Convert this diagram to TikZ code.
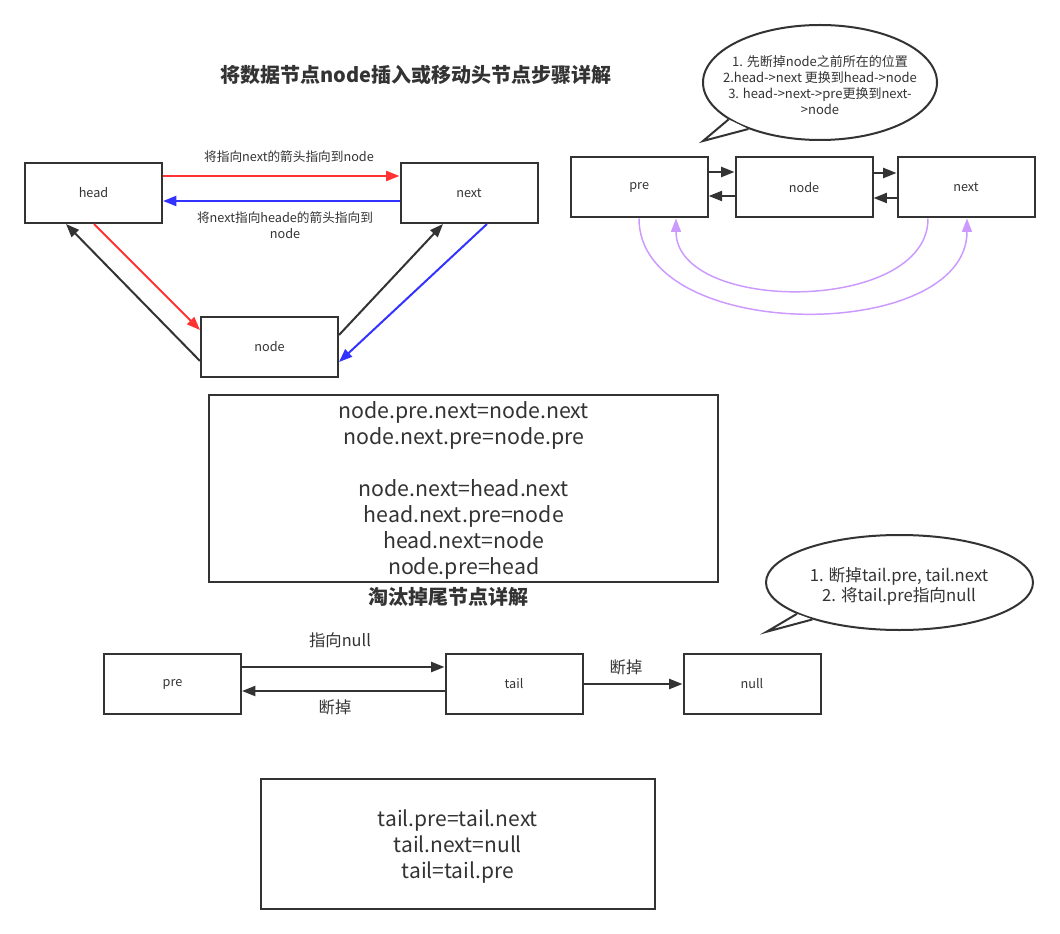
\documentclass[tikz,border=0pt]{standalone}
\usepackage{fontspec}
\setmainfont{Noto Sans CJK SC}
\usetikzlibrary{arrows.meta,shapes.geometric}
\definecolor{ink}{HTML}{333333}
\definecolor{redl}{HTML}{FF3333}
\definecolor{bluel}{HTML}{3333FF}
\definecolor{purp}{HTML}{CC99FF}
\begin{document}
\begin{tikzpicture}[x=0.75pt,y=-0.75pt,
  box/.style={draw=ink, line width=1.5pt, minimum width=102.75pt, minimum height=45pt,
    inner sep=0pt, text=ink, font=\fontsize{9.5}{12}\selectfont},
  frame/.style={draw=ink, line width=1.5pt, inner sep=0pt},
  codetext/.style={text=ink, align=center, inner sep=0pt},
  conn/.style={line width=1.5pt, draw=ink, -{Triangle[length=10pt,width=7.5pt]}},
  parc/.style={line width=1.1pt, draw=purp, -{Triangle[length=10pt,width=7.5pt]}},
  lbl/.style={text=ink, align=center, inner sep=0pt, font=\fontsize{9.5}{12}\selectfont},
  mlbl/.style={text=ink, align=center, inner sep=0pt, font=\fontsize{12.25}{15}\selectfont},
  ttl/.style={text=ink, inner sep=0pt, font=\bfseries\fontsize{15}{18}\selectfont},
  bubble/.style={draw=ink, line width=1.5pt, fill=white, ellipse, inner sep=0pt},
]
\useasboundingbox (0,0) rectangle (1060,934);

% ---------- section 1: triangle ----------
\node[ttl] (t1) at (416,75) {将数据节点node插入或移动头节点步骤详解};

\node[box] (head) at (93.5,193) {head};
\node[box] (next) at (469,193) {next};
\node[box] (nd) at (269.5,347) {node};

\draw[conn,draw=redl] (head.east |- 0,176) -- (next.west |- 0,176);
\draw[conn,draw=bluel] (next.west |- 0,201) -- (head.east |- 0,201);
\draw[conn,draw=redl] (94,0 |- head.south) -- (nd.west |- 0,330);
\draw[conn] (nd.west |- 0,361) -- (66,0 |- head.south);
\draw[conn] (nd.east |- 0,335) -- (443,0 |- next.south);
\draw[conn,draw=bluel] (487,0 |- next.south) -- (nd.east |- 0,362);

\node[lbl] (l1) at (289,157) {将指向next的箭头指向到node};
\node[lbl] (l2) at (285,225) {将next指向heade的箭头指向到\\node};

% ---------- section 1b: pre/node/next ----------
\node[box] (pre) at (639.2,187.5) {pre};
\node[box] (mid) at (804,187.5) {node};
\node[box] (nxt) at (966,187.5) {next};

\draw[conn] (pre.east |- 0,172) -- (mid.west |- 0,172);
\draw[conn] (mid.west |- 0,196) -- (pre.east |- 0,196);
\draw[conn] (mid.east |- 0,173) -- (nxt.west |- 0,173);
\draw[conn] (nxt.west |- 0,198) -- (mid.east |- 0,198);

\draw[parc] (639,0 |- pre.south) .. controls (639,344) and (967,344) .. (967,0 |- nxt.south);
\draw[parc] (928,0 |- nxt.south) .. controls (928,314) and (676,314) .. (676,0 |- pre.south);

% callout 1
\node[bubble, minimum width=175.5pt, minimum height=86.25pt] (c1) at (820,82.5) {};
\coordinate (c1tip) at (703,141);
\fill[white] (c1.202) -- (c1tip) -- (c1.213) -- cycle;
\draw[ink, line width=1.5pt, line join=miter] (c1.202) -- (c1tip) -- (c1.213);
\node[lbl, font=\fontsize{9.75}{12}\selectfont] (c1t) at (820,85) {1. 先断掉node之前所在的位置\\2.head->next 更换到head->node\\3. head->next->pre更换到next-\\>node};

% ---------- code box 1 ----------
\node[frame, minimum width=381.4pt, minimum height=140.25pt] (code1) at (463.75,488.5) {};
\node[codetext, font=\fontsize{16}{19.5}\selectfont] (code1t) at (463.75,490.5)
  {node.pre.next=node.next\\node.next.pre=node.pre\\[19.5pt]node.next=head.next\\head.next.pre=node\\head.next=node\\node.pre=head};

% ---------- section 2 ----------
\node[ttl] (t2) at (448,597) {淘汰掉尾节点详解};

\node[bubble, minimum width=200.25pt, minimum height=71.25pt] (c2) at (899.5,582.5) {};
\coordinate (c2tip) at (766.7,631.7);
\fill[white] (c2.197) -- (c2tip) -- (c2.203) -- cycle;
\draw[ink, line width=1.5pt, line join=miter] (c2.197) -- (c2tip) -- (c2.203);
\node[mlbl, font=\fontsize{12.5}{15}\selectfont] (c2t) at (899,586) {1. 断掉tail.pre, tail.next\\2. 将tail.pre指向null};

\node[box] (bpre) at (172.5,684) {pre};
\node[box] (tail) at (514,684) {tail};
\node[box] (null) at (752,684) {null};

\draw[conn] (bpre.east |- 0,667) -- (tail.west |- 0,667);
\draw[conn] (tail.west |- 0,691) -- (bpre.east |- 0,691);
\draw[conn] (tail.east |- 0,684) -- (null.west |- 0,684);

\node[mlbl] (b1) at (340,640) {指向null};
\node[mlbl] (b2) at (335,707) {断掉};
\node[mlbl] (b3) at (626,667) {断掉};

% ---------- code box 2 ----------
\node[frame, minimum width=295.5pt, minimum height=97.5pt] (code2) at (457.9,844) {};
\node[codetext, font=\fontsize{15.75}{19.5}\selectfont] (code2t) at (457.9,846.5)
  {tail.pre=tail.next\\tail.next=null\\tail=tail.pre};
\end{tikzpicture}
\end{document}
